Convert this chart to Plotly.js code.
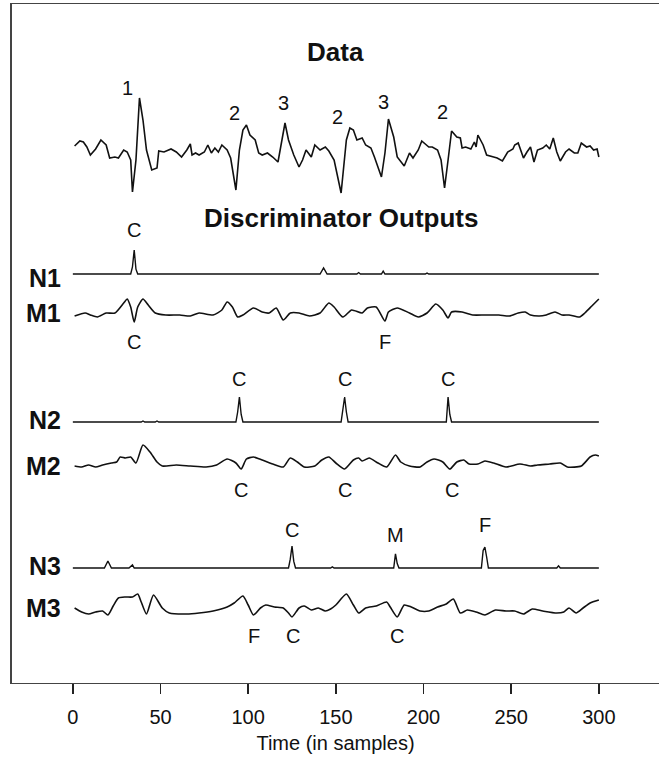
<!DOCTYPE html>
<html>
<head>
<meta charset="utf-8">
<script src="https://cdn.plot.ly/plotly-3.0.1.min.js"></script>
<style>
  html, body { margin: 0; padding: 0; background: #fff; }
  #chart { width: 659px; height: 762px; }
</style>
</head>
<body>
<div id="chart"></div>
<script>
// ---------------- data ----------------
const xTicks = [0, 50, 100, 150, 200, 250, 300];
const xTickLabels = ['0', '50', '100', '150', '200', '250', '300'];

// Raw recorded data (arbitrary amplitude units)
const dataT = [1,4,6,8,10,13,16,19,21,24,26,29,31,33,34,36,38,40,42,45,48,49,52,56,59,62,65,67,68,70,72,75,77,79,81,83,85,88,90,93,95,97,99,101,104,106,108,111,114,117,121,123,126,129,131,133,136,138,141,144,146,149,153,156,158,160,162,165,167,170,172,176,178,180,183,185,189,192,194,197,199,203,205,208,210,212,214,216,219,221,222,224,227,229,230,231,234,236,240,242,245,248,251,252,254,257,259,261,263,265,268,270,272,274,276,278,281,283,286,288,290,293,295,297,299,300];
const dataV = [4,9,8,3,-5,1,10,5,-8,-7,-8,0,-2,-10,-42,-10,52,30,0,-20,-18,-1,-2,1,-2,-7,0,6,-5,-3,-5,-2,5,-3,2,-2,5,0,-8,-40,0,20,25,15,10,-3,-5,-3,-7,-12,27,10,-5,-17,-10,0,-7,5,0,3,-1,-10,-43,10,22,20,10,12,5,2,-7,-27,-3,31,13,-7,-16,-3,-8,0,9,3,3,0,-10,-38,-10,19,13,12,2,3,1,8,3,15,5,-5,-7,-8,-11,-2,1,5,7,-8,-2,3,-12,0,2,5,1,12,-2,-11,-2,1,-3,-3,7,3,4,0,1,-7];
const dataLabels = ['1', '2', '3', '2', '3', '2'];
const dataLabelT = [31, 92, 120, 151, 177, 211];

// Discriminator outputs
const n1T = [0,33,34,35,36,37,141,143,145,162,163,164,176,177,178,201,202,203,300];
const n1V = [0,0,0.3,1.0,0.2,0,0,0.25,0,0,0.06,0,0,0.12,0,0,0.04,0,0];
const m1T = [1,7,10,14,19,24,29,31,33,35,37,40,43,47,53,61,67,72,80,85,88,91,94,97,103,108,112,116,120,124,129,135,141,146,149,154,159,165,168,173,178,180,185,192,197,202,207,211,214,216,222,228,235,243,249,254,258,261,266,270,275,279,283,289,292,296,300];
const m1V = [-3,0,-2,-4,0,0,10,14,6,-9,6,14,8,0,-2,-2,-3,0,-2,3,11,6,-4,-2,5,1,0,5,-7,0,0,-3,0,10,6,-4,3,0,5,6,-8,1,5,0,-4,0,9,3,-5,1,1,-2,-2,-2,-3,0,1,-2,-3,-2,1,-2,-2,-4,0,7,14];

const n2T = [0,39,40,41,47,48,49,93,94,95,96,97,153,154,155,156,157,213,214,215,216,300];
const n2V = [0,0,0.04,0,0,0.04,0,0,0.4,1.0,0.3,0,0,0.5,1.0,0.4,0,0,1.0,0.3,0,0];
const m2T = [1,5,9,13,17,22,25,27,30,33,36,40,44,48,51,59,67,76,82,88,93,96,99,103,108,114,120,124,128,132,138,142,146,150,155,160,163,165,169,174,179,184,187,192,198,202,206,211,215,219,223,226,231,235,240,247,255,261,265,272,278,282,290,295,298,300];
const m2V = [0,-1,1,-1,1,3,4,9,8,9,3,21,14,4,0,1,0,-1,1,7,3,-3,7,9,6,2,-1,8,4,-1,0,6,9,3,-3,6,8,5,8,3,-1,11,4,0,-1,4,7,4,-3,4,6,2,2,5,3,-1,2,0,1,2,3,-1,0,9,11,10];

const n3T = [0,18,20,22,32,34,35,123,124,125,126,127,147,148,149,183,184,185,186,233,234,235,236,237,276,277,278,300];
const n3V = [0,0,0.32,0,0,0.14,0,0,0.4,1.0,0.3,0,0,0.05,0,0,0.64,0.2,0,0,0.8,0.95,0.5,0,0,0.1,0,0];
const m3T = [1,5,9,13,17,20,23,26,30,34,37,39,42,46,51,55,65,72,80,88,92,97,100,103,107,110,115,120,123,125,129,132,136,140,144,147,150,156,160,163,167,173,179,181,185,189,193,198,203,208,213,217,221,225,230,235,241,247,252,257,262,268,276,280,283,287,291,295,300];
const m3V = [0,-4,-6,-4,-3,-7,2,10,11,11,14,6,-6,13,0,-5,-6,-5,-3,1,5,12,3,-7,0,3,1,0,-5,-9,0,2,-2,0,-3,-1,3,14,3,-5,0,2,6,1,-9,3,1,-3,-3,1,4,9,-5,-2,-4,-7,-2,-3,-3,-6,-1,-3,-5,-4,0,-5,0,5,8];

const rowNames = ['N1', 'M1', 'N2', 'M2', 'N3', 'M3'];
const n1Marks = ['C'];            const n1MarkT = [35];
const m1Marks = ['C', 'F'];       const m1MarkT = [35, 178];
const n2Marks = ['C', 'C', 'C'];  const n2MarkT = [95, 155, 214];
const m2Marks = ['C', 'C', 'C'];  const m2MarkT = [96, 155.5, 216.5];
const n3Marks = ['C', 'M', 'F'];  const n3MarkT = [125, 184, 235];
const m3Marks = ['F', 'C', 'C'];  const m3MarkT = [103.5, 125.5, 185];

// ---------------- layout geometry (pixels) ----------------
const W = 659, H = 762;
const M = {l: 12, r: 0, t: 4, b: 79};
const plotH = H - M.t - M.b;
const plotW = W - M.l - M.r;
const py2paper = py => (H - M.b - py) / plotH;
const px2paper = px => (px - M.l) / plotW;

// each channel: baseline pixel row, pixels per unit, pixel band it lives in
// (the Data channel uses the main full-height y axis)
const chans = [
  {name: 'Data', t: dataT, v: dataV, base: 150, k: 1.0, band: [M.t, H - M.b], w: 1.6, spline: false},
  {name: 'N1', t: n1T, v: n1V, base: 274, k: 24, band: [240, 290], w: 1.4, spline: false},
  {name: 'M1', t: m1T, v: m1V, base: 313, k: 1.0, band: [285, 335], w: 1.6, spline: true},
  {name: 'N2', t: n2T, v: n2V, base: 422, k: 25, band: [390, 440], w: 1.4, spline: false},
  {name: 'M2', t: m2T, v: m2V, base: 466, k: 1.0, band: [435, 485], w: 1.6, spline: true},
  {name: 'N3', t: n3T, v: n3V, base: 568, k: 22, band: [535, 585], w: 1.4, spline: false},
  {name: 'M3', t: m3T, v: m3V, base: 608, k: 1.0, band: [580, 630], w: 1.6, spline: true}
];

const traces = [];
const layout = {
  width: W, height: H,
  margin: M,
  paper_bgcolor: '#fff', plot_bgcolor: 'rgba(0,0,0,0)',
  showlegend: false,
  font: {family: '"Liberation Sans", Arial, Helvetica, sans-serif', color: '#111', size: 20},
  xaxis: {
    anchor: 'y',
    range: [-34.7, 334.3],
    tickvals: xTicks, ticktext: xTickLabels,
    ticks: 'outside', ticklen: 10, tickwidth: 1.5, tickcolor: '#222',
    ticklabelstandoff: 6,
    showline: true, linecolor: '#444', linewidth: 1.2, mirror: true,
    showgrid: false, zeroline: false,
    tickfont: {size: 20},
    title: {text: 'Time (in samples)', font: {size: 20}, standoff: 8}
  },
  annotations: []
};

chans.forEach((c, i) => {
  const ax = i === 0 ? 'yaxis' : 'yaxis' + (i + 1);
  const [topPx, botPx] = c.band;
  const axis = {
    domain: [py2paper(botPx), py2paper(topPx)],
    range: [(c.base - botPx) / c.k, (c.base - topPx) / c.k],
    showgrid: false, zeroline: false, fixedrange: true
  };
  if (i === 0) {
    Object.assign(axis, {showline: true, linecolor: '#444', linewidth: 1.8,
      showticklabels: false, ticks: ''});
  } else {
    Object.assign(axis, {anchor: 'x', visible: false});
  }
  layout[ax] = axis;
  traces.push({
    type: 'scatter', mode: 'lines', name: c.name,
    x: c.t, y: c.v, xaxis: 'x', yaxis: i === 0 ? 'y' : 'y' + (i + 1),
    line: c.spline ? {color: '#111', width: c.w, shape: 'spline', smoothing: 0.6}
                   : {color: '#111', width: c.w},
    cliponaxis: false,
    hoverinfo: 'skip'
  });
});

function addText(text, x, xref, py, opts) {
  layout.annotations.push(Object.assign({
    text: text, x: x, xref: xref, y: py2paper(py), yref: 'paper',
    showarrow: false, xanchor: 'center', yanchor: 'middle',
    font: {size: 20, color: '#111'}
  }, opts || {}));
}

// headings
addText('<b>Data</b>', 150, 'x', 52, {font: {size: 26, color: '#111'}});
addText('<b>Discriminator Outputs</b>', 153, 'x', 218, {font: {size: 26, color: '#111'}});

// data event labels
const dataLabelY = [88, 113, 103, 117, 102, 112];
dataLabels.forEach((s, i) => addText(s, dataLabelT[i], 'x', dataLabelY[i]));

// row names
const rowY = [278, 313, 420, 466, 566, 608];
rowNames.forEach((s, i) => addText('<b>' + s + '</b>', px2paper(63), 'paper', rowY[i],
  {xanchor: 'right', font: {size: 25, color: '#111'}}));

// discriminator event labels
const markSets = [
  [n1Marks, n1MarkT, 230], [m1Marks, m1MarkT, 342],
  [n2Marks, n2MarkT, 379], [m2Marks, m2MarkT, 490],
  [n3Marks, n3MarkT, [530, 535, 525]], [m3Marks, m3MarkT, 636]
];
markSets.forEach(([txt, ts, yy]) => {
  txt.forEach((s, i) => addText(s, ts[i], 'x', Array.isArray(yy) ? yy[i] : yy));
});

Plotly.newPlot('chart', traces, layout, {staticPlot: true, displayModeBar: false});
</script>
</body>
</html>
